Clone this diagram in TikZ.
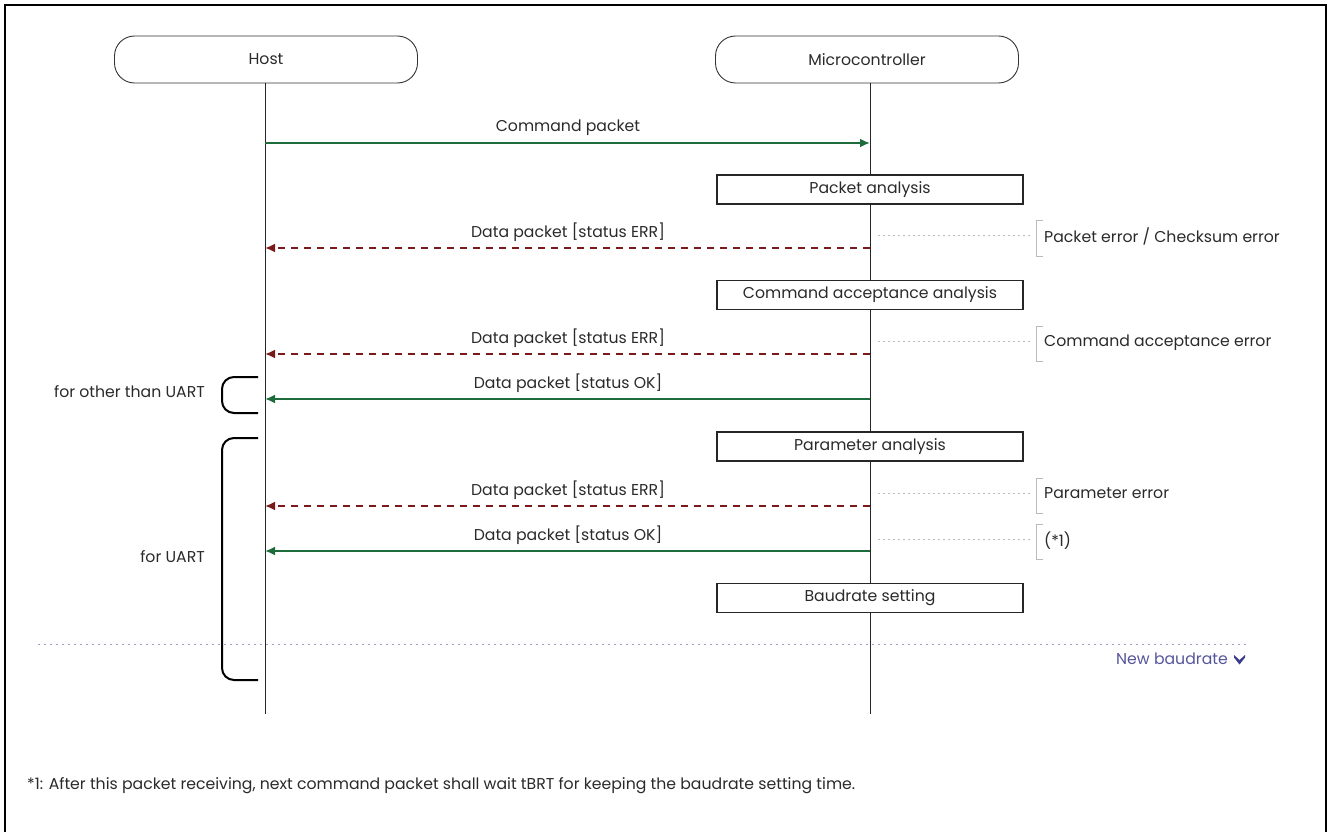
\documentclass[tikz,border=0pt]{standalone}
\usepackage{fontspec}
\setmainfont{Poppins}
\usetikzlibrary{arrows.meta}
\definecolor{okgreen}{HTML}{1E6B3C}
\definecolor{errred}{HTML}{7A1A1A}
\definecolor{txt}{HTML}{2A2A2A}
\definecolor{lgray}{HTML}{BBBBBB}
\definecolor{purp}{HTML}{9A9AD0}
\definecolor{purptxt}{HTML}{55559A}
\definecolor{chev}{HTML}{3A3A8A}
\newcommand{\fs}{\fontsize{15.7}{18}\selectfont}
\tikzset{
  actor/.style={draw=black!80, line width=0.9pt, rounded corners=20pt, minimum width=303pt, minimum height=47pt, inner sep=0pt, text=txt, font=\fs},
  procbox/.style={draw=black!85, line width=1.3pt, minimum width=306pt, minimum height=29pt, inner sep=0pt, fill=white, text=txt, font=\fs},
  lifeline/.style={black!85, line width=1pt},
  msgok/.style={okgreen, line width=2.2pt, -{Latex[length=10pt,width=9pt]}},
  msgerr/.style={errred, line width=2.2pt, dash pattern=on 7pt off 6pt, -{Latex[length=10pt,width=9pt]}},
  lbl/.style={text=txt, font=\fs, inner sep=0pt},
  note/.style={text=txt, font=\fs, inner sep=0pt, anchor=west},
  guide/.style={lgray, line width=0.8pt, dash pattern=on 1.5pt off 3.5pt},
  rbrack/.style={lgray, line width=1pt},
  lbrack/.style={black, line width=2pt, rounded corners=12pt},
}
\begin{document}
\begin{tikzpicture}[x=1pt, y=-1pt]
\useasboundingbox (0,0) rectangle (1328,832);
% frame
\draw[black, line width=2.5pt] (5,840) -- (5,5) -- (1326,5) -- (1326,840);

% actors
\node[actor] (host) at (266,59.5) {Host};
\node[actor] (mcu) at (867,59.5) {Microcontroller};

% lifelines
\coordinate (ht) at (265,83);
\coordinate (hb) at (265,714);
\coordinate (mt) at (870,83);
\coordinate (mb) at (870,714);
\draw[lifeline] (ht) -- (hb);
\draw[lifeline] (mt) -- (mb);

% messages coordinates
\coordinate (h1) at (265,143); \coordinate (m1) at (870,143);
\coordinate (h2) at (265,248); \coordinate (m2) at (870,248);
\coordinate (h3) at (265,354); \coordinate (m3) at (870,354);
\coordinate (h4) at (265,399); \coordinate (m4) at (870,399);
\coordinate (h5) at (265,506); \coordinate (m5) at (870,506);
\coordinate (h6) at (265,551); \coordinate (m6) at (870,551);

\draw[msgok] (h1) -- (m1);
\node[lbl] (l1) at (568,127.5) {Command packet};

\node[procbox] (pa) at (870,189.5) {Packet analysis};

\draw[msgerr] (m2) -- (h2);
\node[lbl] (l2) at (568,232.5) {Data packet [status ERR]};

\node[procbox] (ca) at (870,295) {Command acceptance analysis};

\draw[msgerr] (m3) -- (h3);
\node[lbl] (l3) at (568,338.5) {Data packet [status ERR]};

\draw[msgok] (m4) -- (h4);
\node[lbl] (l4) at (568,383.5) {Data packet [status OK]};

\node[procbox] (par) at (870,446.5) {Parameter analysis};

\draw[msgerr] (m5) -- (h5);
\node[lbl] (l5) at (568,490.5) {Data packet [status ERR]};

\draw[msgok] (m6) -- (h6);
\node[lbl] (l6) at (568,535.5) {Data packet [status OK]};

\node[procbox] (bs) at (870,598) {Baudrate setting};

% right notes
\coordinate (g1a) at (878,235); \coordinate (g1b) at (1030,235);
\draw[guide] (g1a) -- (g1b);
\draw[rbrack] (1043,220) -- (1036,220) -- (1036,256) -- (1043,256);
\node[note] (n1) at (1044,236.5) {Packet error / Checksum error};

\coordinate (g2a) at (878,341); \coordinate (g2b) at (1030,341);
\draw[guide] (g2a) -- (g2b);
\draw[rbrack] (1043,326) -- (1036,326) -- (1036,361) -- (1043,361);
\node[note] (n2) at (1044,342.5) {Command acceptance error};

\coordinate (g3a) at (878,493); \coordinate (g3b) at (1030,493);
\draw[guide] (g3a) -- (g3b);
\draw[rbrack] (1043,478) -- (1036,478) -- (1036,513) -- (1043,513);
\node[note] (n3) at (1044,493.5) {Parameter error};

\coordinate (g4a) at (878,539); \coordinate (g4b) at (1030,539);
\draw[guide] (g4a) -- (g4b);
\draw[rbrack] (1043,524) -- (1036,524) -- (1036,559) -- (1043,559);
\node[note] (n4) at (1044,541) {(*1)};

% left brackets
\draw[lbrack] (258,377) -- (222,377) -- (222,413) -- (258,413);
\node[lbl, anchor=east] (b1) at (205,391.5) {for other than UART};
\draw[lbrack] (258,438) -- (222,438) -- (222,680) -- (258,680);
\node[lbl, anchor=east] (b2) at (205,556.5) {for UART};

% new baudrate line
\coordinate (nb1) at (38,644); \coordinate (nb2) at (1248,644);
\draw[purp, line width=1pt, dash pattern=on 2pt off 4pt] (nb1) -- (nb2);
\node[lbl, text=purptxt, anchor=east] (nbt) at (1228,659) {New baudrate};
\fill[chev] (1234,655) -- (1239.5,660) -- (1245,655) -- (1245,657.5) -- (1239.5,664.5) -- (1234,657.5) -- cycle;

% footnote
\node[note] (fn) at (27,785.5) {*1: After this packet receiving, next command packet shall wait tBRT for keeping the baudrate setting time.};
\end{tikzpicture}
\end{document}
